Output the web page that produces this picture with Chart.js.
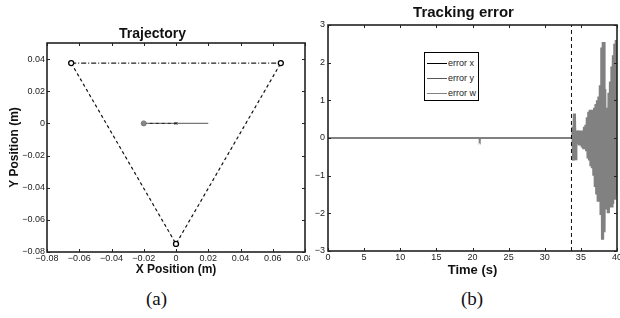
<!DOCTYPE html>
<html>
<head>
<meta charset="utf-8">
<script src="https://cdn.jsdelivr.net/npm/chart.js@4.4.1/dist/chart.umd.min.js"></script>
<style>
  body { margin: 0; background: #fff; width: 620px; height: 318px; position: relative; overflow: hidden; font-family: 'Liberation Sans', Arial, sans-serif; }
  #boxA { position: absolute; left: 0; top: 0; width: 310px; height: 285px; overflow: hidden; }
  #boxB { position: absolute; left: 310px; top: 0; width: 310px; height: 285px; overflow: hidden; }
  .cap { position: absolute; top: 288px; font-family: 'Liberation Serif', 'Times New Roman', serif; font-size: 19px; color: #111; }
  #legend { position: absolute; left: 424px; top: 52px; width: 53px; height: 47px; border: 1px solid #000; background: #fff; font-size: 9px; color: #222; }
  #legend div { position: absolute; left: 2px; height: 10px; line-height: 10px; white-space: nowrap; }
  #legend span { display: inline-block; width: 20px; height: 0; vertical-align: middle; margin-right: 1px; }
</style>
</head>
<body>
<div id="boxA"><canvas id="chartTraj" width="320" height="285"></canvas></div>
<div id="boxB"><canvas id="chartErr" width="310" height="285"></canvas></div>
<div id="legend"></div>
<div class="cap" style="left:146px">(a)</div>
<div class="cap" style="left:461px">(b)</div>
<script>
// Trajetória (m)
const ladosX = [-0.065, 0, 0.065];
const ladosY = [0.0375, -0.075, 0.0375];
const topoX = [-0.065, 0.065];
const topoY = [0.0375, 0.0375];
const verticesX = [-0.065, 0.065, 0];
const verticesY = [0.0375, 0.0375, -0.075];
const robotX = [-0.02, 0.02];
const robotY = [0, 0];
const robotTracoX = [-0.02, 0];
const robotTracoY = [0, 0];
const inicioX = [-0.02];
const inicioY = [0];
const cruzX = [0];
const cruzY = [0];

// Erro de rastreamento
const tempoXY = [0, 33.8];
const erroX = [0, 0];
const erroY = [0, 0];
const tempoW = [0, 20.9, 21.0, 21.1, 33.8,
  33.9, 34.0, 34.1, 34.2, 34.3, 34.4, 34.5, 34.6, 34.7, 34.8, 34.9, 35.0,
  35.1, 35.2, 35.3, 35.4, 35.5, 35.6, 35.7, 35.8, 35.9, 36.0,
  36.1, 36.2, 36.3, 36.4, 36.5, 36.6, 36.7, 36.8, 36.9, 37.0,
  37.1, 37.2, 37.3, 37.4, 37.5, 37.6, 37.7, 37.8, 37.9, 38.0,
  38.1, 38.2, 38.3, 38.4, 38.5, 38.6, 38.7, 38.8, 38.9, 39.0,
  39.1, 39.2, 39.3, 39.4, 39.5, 39.6, 39.7, 39.8, 39.9, 40.0];
const erroW = [0, 0, -0.05, 0, 0,
  0.3, -0.6, 0.65, -0.55, 0.2, -0.15, 0.15, -0.1, 0.2, -0.2, 0.15, -0.15,
  0.2, -0.25, 0.15, -0.3, 0.3, -0.2, 0.35, -0.35, 0.55, -0.5,
  0.7, -0.6, 0.75, -0.75, 0.7, -0.8, 0.75, -1.0, 0.8, -1.3,
  0.9, -1.5, 1.0, -1.65, 1.1, -1.6, 1.4, -2.0, 2.4, -2.7,
  2.55, -2.5, 1.3, -1.9, 0.75, -1.7, 0.8, -2.0, 1.2, -1.6,
  1.5, -1.8, 1.9, -1.75, 2.2, -1.6, 2.5, -1.5, 2.6, -1.4];
const instanteTroca = 33.7;
const limiteErro = [-3, 3];

const pts = (xs, ys) => xs.map((x, i) => ({ x: x, y: ys[i] }));
const menos = s => String(s).replace('-', '\u2212');
const fonteTick = { family: 'Liberation Sans', size: 9 };

// moldura e ticks internos (estilo MATLAB)
const moldura = {
  id: 'moldura',
  afterDraw(chart) {
    const { ctx, chartArea: a, scales } = chart;
    ctx.save();
    ctx.strokeStyle = '#222';
    ctx.lineWidth = 1;
    scales.x.ticks.forEach(t => {
      const px = Math.round(scales.x.getPixelForValue(t.value)) + 0.5;
      ctx.beginPath();
      ctx.moveTo(px, a.bottom); ctx.lineTo(px, a.bottom - 3);
      ctx.moveTo(px, a.top); ctx.lineTo(px, a.top + 3);
      ctx.stroke();
    });
    scales.y.ticks.forEach(t => {
      const py = Math.round(scales.y.getPixelForValue(t.value)) + 0.5;
      ctx.beginPath();
      ctx.moveTo(a.left, py); ctx.lineTo(a.left + 3, py);
      ctx.moveTo(a.right, py); ctx.lineTo(a.right - 3, py);
      ctx.stroke();
    });
    ctx.lineWidth = 1.6;
    ctx.strokeRect(a.left, a.top, a.right - a.left, a.bottom - a.top);
    ctx.restore();
  }
};

new Chart(document.getElementById('chartTraj'), {
  type: 'scatter',
  data: {
    datasets: [
      { data: pts(verticesX, verticesY), pointRadius: 2.5, pointBackgroundColor: '#fff', pointBorderColor: '#000', pointBorderWidth: 1.3 },
      { data: pts(cruzX, cruzY), pointStyle: 'crossRot', pointRadius: 2, pointBorderColor: '#222', borderWidth: 1 },
      { data: pts(inicioX, inicioY), pointRadius: 2.5, pointBackgroundColor: '#888', pointBorderColor: '#777' },
      { data: pts(robotTracoX, robotTracoY), showLine: true, borderColor: '#222', borderWidth: 1, borderDash: [3, 3], pointRadius: 0 },
      { data: pts(robotX, robotY), showLine: true, borderColor: '#777', borderWidth: 1.2, pointRadius: 0 },
      { data: pts(topoX, topoY), showLine: true, borderColor: '#222', borderWidth: 1.1, borderDash: [5, 2, 1, 2], pointRadius: 0 },
      { data: pts(ladosX, ladosY), showLine: true, borderColor: '#111', borderWidth: 1.2, borderDash: [3, 3], pointRadius: 0 },
      { data: pts(ladosX, ladosY), showLine: true, borderColor: '#bbb', borderWidth: 1, borderDash: [1, 2], pointRadius: 0 }
    ]
  },
  options: {
    responsive: false,
    animation: false,
    layout: { padding: { left: 0, right: 15, top: 0, bottom: 0 } },
    plugins: {
      legend: { display: false },
      tooltip: { enabled: false },
      title: {
        display: true, text: 'Trajectory', color: '#111',
        font: { family: 'Liberation Sans', size: 14, weight: 'bold' },
        padding: { top: 25.5, bottom: 0.7 }
      }
    },
    scales: {
      x: {
        min: -0.08, max: 0.08,
        ticks: { stepSize: 0.02, font: fonteTick, color: '#222', padding: 1, maxRotation: 0,
          callback: v => Math.abs(v) < 1e-9 ? '0' : menos(v.toFixed(2)) },
        grid: { display: false, drawTicks: false },
        border: { display: false },
        title: { display: true, text: 'X Position (m)', color: '#111',
          font: { family: 'Liberation Sans', size: 12, weight: 'bold' }, padding: { top: 0, bottom: 7.8 } },
        afterFit: s => { s.height = 33; s.paddingLeft = 0; s.paddingRight = 0; }
      },
      y: {
        min: -0.08, max: 0.05,
        ticks: { stepSize: 0.02, includeBounds: false, font: fonteTick, color: '#222', padding: 2,
          callback: v => Math.abs(v) < 1e-9 ? '0' : menos(v.toFixed(2)) },
        grid: { display: false, drawTicks: false },
        border: { display: false },
        title: { display: true, text: 'Y Position (m)', color: '#111',
          font: { family: 'Liberation Sans', size: 12, weight: 'bold' }, padding: { top: 7.8, bottom: 0 } },
        afterFit: s => { s.width = 47; s.paddingTop = 0; s.paddingBottom = 0; }
      }
    }
  },
  plugins: [moldura]
});

const graficoErro = new Chart(document.getElementById('chartErr'), {
  type: 'scatter',
  data: {
    datasets: [
      { label: 'error x', order: 3, data: pts(tempoXY, erroX), showLine: true, borderColor: '#000', borderWidth: 1.5, pointRadius: 0 },
      { label: 'error y', order: 2, data: pts(tempoXY, erroY), showLine: true, borderColor: '#555', borderWidth: 1.5, pointRadius: 0 },
      { label: 'error w', order: 1, data: pts(tempoW, erroW), showLine: true, borderColor: '#818181', borderWidth: 2, pointRadius: 0,
        // depois da troca a oscilação é densa: traço mais grosso para preencher
        segment: { borderWidth: c => c.p0.parsed.x >= 33.8 ? 3.2 : 2 } },
      { label: '', order: 0, data: pts([instanteTroca, instanteTroca], limiteErro), showLine: true, borderColor: '#111', borderWidth: 1, borderDash: [4, 3], pointRadius: 0 }
    ]
  },
  options: {
    responsive: false,
    animation: false,
    layout: { padding: { left: 0, right: 3, top: 0, bottom: 0 } },
    plugins: {
      legend: { display: false },
      tooltip: { enabled: false },
      title: {
        display: true, text: 'Tracking error', color: '#111',
        font: { family: 'Liberation Sans', size: 15, weight: 'bold' },
        padding: { top: 3.5, bottom: 3.5 }
      }
    },
    scales: {
      x: {
        min: 0, max: 40,
        ticks: { stepSize: 5, font: fonteTick, color: '#222', padding: 1, maxRotation: 0 },
        grid: { display: false, drawTicks: false },
        border: { display: false },
        title: { display: true, text: 'Time (s)', color: '#111',
          font: { family: 'Liberation Sans', size: 13, weight: 'bold' }, padding: { top: 0, bottom: 7.2 } },
        afterFit: s => { s.height = 34; s.paddingLeft = 0; s.paddingRight = 0; }
      },
      y: {
        min: -3, max: 3,
        ticks: { stepSize: 1, font: fonteTick, color: '#222', padding: 3, callback: v => menos(v) },
        grid: { display: false, drawTicks: false },
        border: { display: false },
        afterFit: s => { s.width = 18; s.paddingTop = 0; s.paddingBottom = 0; }
      }
    }
  },
  plugins: [moldura]
});

// legenda dentro do gráfico
const legenda = document.getElementById('legend');
graficoErro.data.datasets.slice(0, 3).forEach((ds, i) => {
  const linha = document.createElement('div');
  linha.style.top = (5 + i * 15) + 'px';
  linha.innerHTML = '<span style="border-top:1.5px solid ' + ds.borderColor + '"></span>' + ds.label;
  legenda.appendChild(linha);
});
</script>
</body>
</html>
